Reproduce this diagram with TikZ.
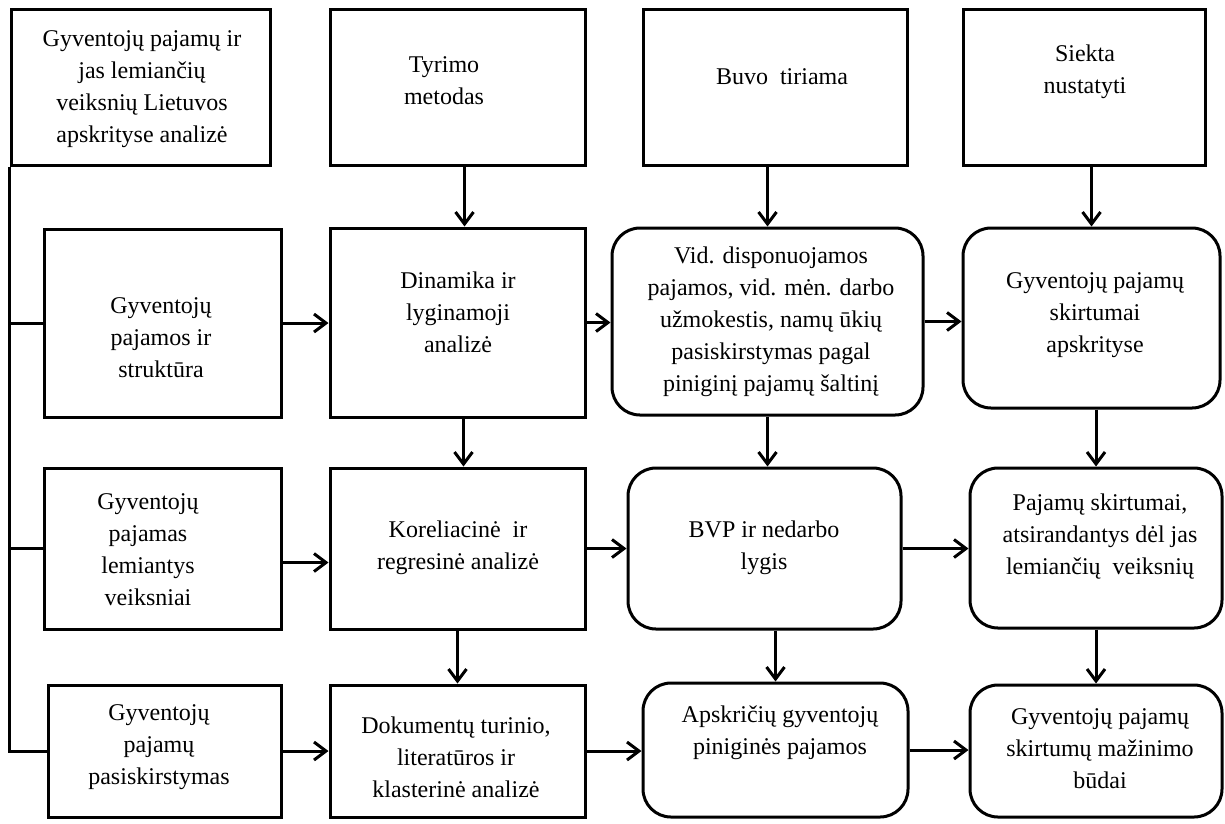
\documentclass[tikz,border=0pt]{standalone}
\usepackage{fontspec}
\setmainfont{Liberation Serif}
\usetikzlibrary{arrows.meta}

\tikzset{
  box/.style 2 args={draw, line width=3pt, inner sep=0pt, minimum width=#1, minimum height=#2},
  rbox/.style 2 args={box={#1}{#2}, rounded corners=28pt},
  txt/.style={align=center, inner sep=0pt, font=\fontsize{24}{32}\selectfont},
}

\begin{document}
\begin{tikzpicture}[x=1pt,y=-1pt,>={Straight Barb[length=12pt,width=18pt]},line width=3pt]
\useasboundingbox (0,0) rectangle (1225,823);
%% boxes
\node[box={259pt}{156pt}] (node_tema) at (140.5,87) {};
\node[box={255pt}{156pt}] (node_metodas) at (457.5,87) {};
\node[box={264pt}{156pt}] (node_tiriama) at (775,87) {};
\node[box={242pt}{156pt}] (node_siekta) at (1084,87) {};
\node[box={237pt}{188pt}] (node_struktura) at (162.5,323) {};
\node[box={255pt}{189pt}] (node_dinamika) at (457.5,322.5) {};
\node[rbox={311pt}{187pt}] (node_vid) at (767.5,321.5) {};
\node[rbox={257pt}{180pt}] (node_skirtumai) at (1091.5,318) {};
\node[box={237pt}{161pt}] (node_veiksniai) at (162.5,548.5) {};
\node[box={255pt}{161pt}] (node_koreliacine) at (457.5,548.5) {};
\node[rbox={273pt}{161pt}] (node_bvp) at (764.5,548.5) {};
\node[rbox={252pt}{160pt}] (node_pajamu) at (1096,548) {};
\node[box={233pt}{132pt}] (node_pasiskirstymas) at (164.5,751) {};
\node[box={255pt}{132pt}] (node_dokumentu) at (457.5,751) {};
\node[rbox={265pt}{134pt}] (node_apskriciu) at (775.5,750) {};
\node[rbox={252pt}{132pt}] (node_mazinimo) at (1096,751) {};
%% texts
\node[txt] (node_tema_txt) at (142,89) {Gyventojų pajamų ir\\jas lemiančių\\veiksnių Lietuvos\\apskrityse analizė};
\node[txt] (node_metodas_txt) at (444,81) {Tyrimo\\metodas};
\node[txt] (node_tiriama_txt) at (782,77) {Buvo\ \ tiriama};
\node[txt] (node_siekta_txt) at (1085,72) {Siekta\\nustatyti};
\node[txt] (node_struktura_txt) at (161,338) {Gyventojų\\pajamos ir\\struktūra};
\node[txt] (node_dinamika_txt) at (458,312) {Dinamika ir\\lyginamoji\\analizė};
\node[txt] (node_vid_txt) at (771,322) {Vid. disponuojamos\\pajamos, vid. mėn. darbo\\užmokestis, namų ūkių\\pasiskirstymas pagal\\piniginį pajamų šaltinį};
\node[txt] (node_skirtumai_txt) at (1095,315) {Gyventojų pajamų\\skirtumai\\apskrityse};
\node[txt] (node_veiksniai_txt) at (148,550) {Gyventojų\\pajamas\\lemiantys\\veiksniai};
\node[txt] (node_koreliacine_txt) at (458,548) {Koreliacinė\ \ ir\\regresinė analizė};
\node[txt] (node_bvp_txt) at (764,548) {BVP ir nedarbo\\lygis};
\node[txt] (node_pajamu_txt) at (1100,537) {Pajamų skirtumai,\\atsirandantys dėl jas\\lemiančių\ \ veiksnių};
\node[txt] (node_pasiskirstymas_txt) at (159,747) {Gyventojų\\pajamų\\pasiskirstymas};
\node[txt] (node_dokumentu_txt) at (456,757) {Dokumentų turinio,\\literatūros ir\\klasterinė analizė};
\node[txt] (node_apskriciu_txt) at (780,733) {Apskričių gyventojų\\piniginės pajamos};
\node[txt] (node_mazinimo_txt) at (1100,749) {Gyventojų pajamų\\skirtumų mažinimo\\būdai};
%% left bracket
\draw (node_tema.south west) |- (node_pasiskirstymas.west);
\draw (node_tema.south west |- node_struktura.west) -- (node_struktura.west);
\draw (node_tema.south west |- node_veiksniai.west) -- (node_veiksniai.west);
%% horizontal arrows
\draw[->] (node_struktura.east) -- (node_dinamika.west |- node_struktura.east);
\draw[->] (node_dinamika.east) -- (node_vid.west |- node_dinamika.east);
\draw[->] (node_vid.east) -- (node_skirtumai.west |- node_vid.east);
\draw[->] ([yshift=-14pt]node_veiksniai.east) -- ([yshift=-14pt]node_koreliacine.west |- node_veiksniai.east);
\draw[->] (node_koreliacine.east) -- (node_bvp.west |- node_koreliacine.east);
\draw[->] (node_bvp.east) -- (node_pajamu.west |- node_bvp.east);
\draw[->] (node_pasiskirstymas.east) -- (node_dokumentu.west |- node_pasiskirstymas.east);
\draw[->] (node_dokumentu.east) -- (node_apskriciu.west |- node_dokumentu.east);
\draw[->] (node_apskriciu.east) -- (node_mazinimo.west |- node_apskriciu.east);
%% vertical arrows
\draw[->] ([xshift=7pt]node_metodas.south) -- ([xshift=7pt]node_metodas.south |- node_dinamika.north);
\draw[->] ([xshift=6pt]node_dinamika.south) -- ([xshift=6pt]node_dinamika.south |- node_koreliacine.north);
\draw[->] (node_koreliacine.south) -- (node_koreliacine.south |- node_dokumentu.north);
\draw[->] (node_vid.north |- node_tiriama.south) -- (node_vid.north);
\draw[->] (node_vid.south) -- (node_vid.south |- node_bvp.north);
\draw[->] (node_apskriciu.north |- node_bvp.south) -- (node_apskriciu.north);
\draw[->] (node_skirtumai.north |- node_siekta.south) -- (node_skirtumai.north);
\draw[->] (node_pajamu.north |- node_skirtumai.south) -- (node_pajamu.north);
\draw[->] (node_pajamu.south) -- (node_pajamu.south |- node_mazinimo.north);
%
\end{tikzpicture}
\end{document}
